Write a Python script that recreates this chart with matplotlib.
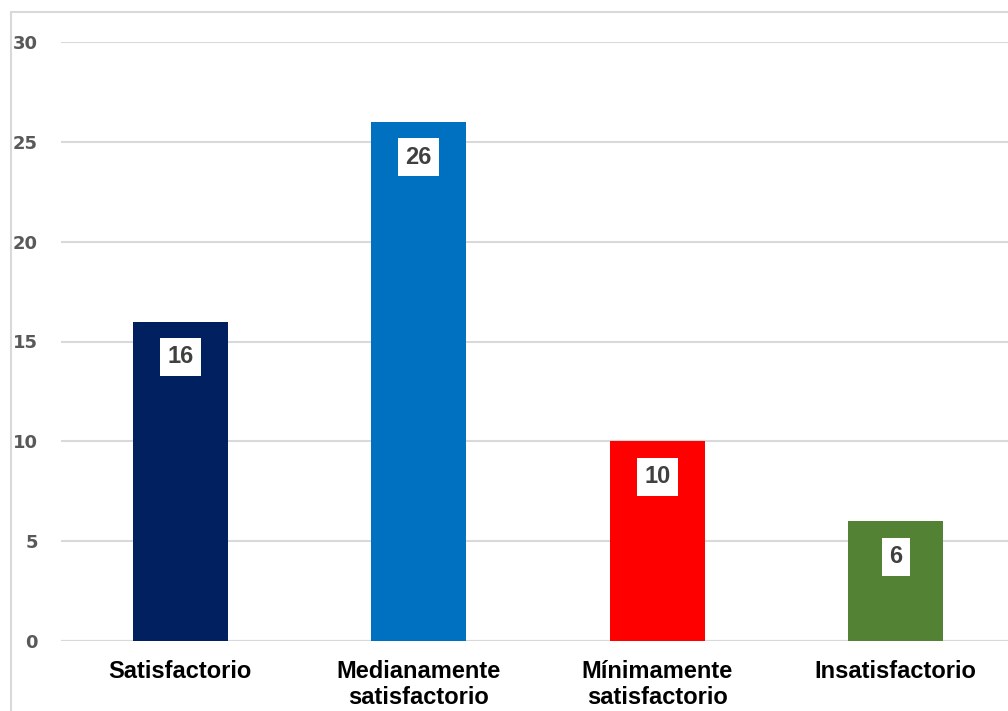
import matplotlib.pyplot as plt
from matplotlib.patches import Rectangle

plt.rcParams['font.family'] = ['Liberation Sans', 'DejaVu Sans']

categorias = ['Satisfactorio', 'Medianamente\nsatisfactorio',
              'Mínimamente\nsatisfactorio', 'Insatisfactorio']
valores = [16, 26, 10, 6]
colores = ['#002060', '#0070C0', '#FF0000', '#548235']
yticks = [0, 5, 10, 15, 20, 25, 30]

W, H = 1008, 711
fig = plt.figure(figsize=(W / 100, H / 100), dpi=100)

# chart area frame (runs off the right and bottom edges)
fig.patches.append(Rectangle((10.5 / W, -0.1), 1.2, (H - 11.5) / H + 0.1,
                             transform=fig.transFigure, fill=False,
                             edgecolor='#d9d9d9', linewidth=1.5))

ax = fig.add_axes([61 / W, 70 / H, 954 / W, 599 / H])
x = range(len(categorias))
ax.bar(x, valores, width=0.4, color=colores, zorder=3)
ax.set_xlim(-0.5, 3.5)
ax.set_ylim(0, 30)
ax.set_yticks(yticks)
ax.set_yticklabels([str(t) for t in yticks], fontsize=13, fontweight='bold',
                   color='#595959', family=['DejaVu Sans'])
ax.set_xticks(list(x))
ax.set_xticklabels(categorias, fontsize=17, fontweight='bold', color='black',
                   linespacing=1.15)
ax.tick_params(axis='y', length=0, pad=16.5)
ax.tick_params(axis='x', length=0, pad=14)
ax.grid(axis='y', color='#d9d9d9', linewidth=1.5, zorder=0)
for s in ax.spines.values():
    s.set_visible(False)
ax.axhline(0, color='#d9d9d9', linewidth=1.5, zorder=1)

for xi, v in zip(x, valores):
    ax.annotate(str(v), (xi, v), xytext=(0, -25.5), textcoords='offset points',
                ha='center', va='center', fontsize=17, fontweight='bold',
                color='#404040', zorder=4,
                bbox=dict(boxstyle='square,pad=0.32', fc='white', ec='none'))

fig.savefig('out.png', dpi=100)
